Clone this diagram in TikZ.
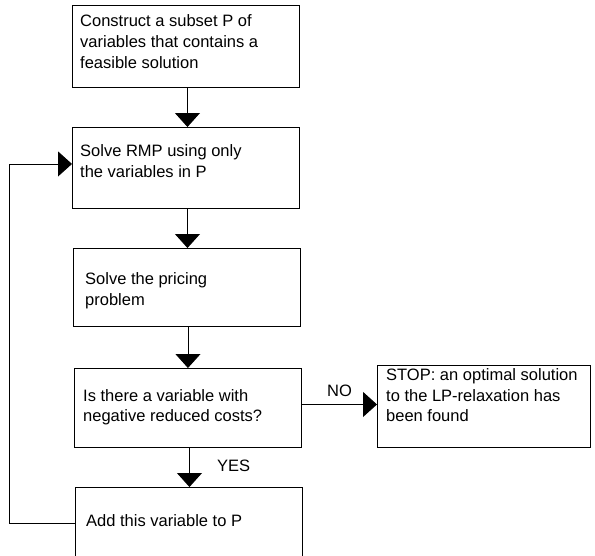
\documentclass[tikz,border=0pt]{standalone}
\usepackage{fontspec}
\setmainfont{Liberation Sans}
\usetikzlibrary{arrows.meta}
\begin{document}
\begin{tikzpicture}[x=1pt,y=-1pt,
  box/.style={draw=black, line width=0.9pt, inner sep=0pt, anchor=north west},
  txt/.style={inner sep=0pt, anchor=base west, align=left, font=\fontsize{16.5}{20.7}\selectfont},
  lbl/.style={inner sep=0pt, anchor=base west, font=\fontsize{16.5}{20}\selectfont},
  flow/.style={line width=0.9pt, -{Triangle[width=25pt,length=14pt]}}]
\useasboundingbox (0,0) rectangle (595,555);
\clip (0,0) rectangle (595,555);
\node[box, minimum width=227pt, minimum height=82pt] (b1) at (72,5) {};
\node[box, minimum width=227pt, minimum height=81pt] (b2) at (72,127) {};
\node[box, minimum width=227pt, minimum height=78pt] (b3) at (73,248) {};
\node[box, minimum width=227pt, minimum height=79pt] (b4) at (74,368) {};
\node[box, minimum width=227pt, minimum height=85pt] (b5) at (75,487) {};
\node[box, minimum width=213pt, minimum height=82pt] (stop) at (377,365) {};
% base anchor = baseline of the last line
\node[txt] (t1) at (80,68) {Construct a subset P of\\variables that contains a\\feasible solution};
\node[txt] (t2) at (80,177.5) {Solve RMP using only\\the variables in P};
\node[txt] (t3) at (85,305) {Solve the pricing\\problem};
\node[txt] (t4) at (83,421.7) {Is there a variable with\\negative reduced costs?};
\node[txt] (t5) at (86,526) {Add this variable to P};
\node[txt] (t6) at (386,421.7) {STOP: an optimal solution\\to the LP-relaxation has\\been found};
\node[lbl] (no) at (327,396) {NO};
\node[lbl] (yes) at (217,471.5) {YES};
\draw[flow] ([xshift=1.5pt]b1.south) -- ([xshift=1.5pt]b1.south |- b2.north);
\draw[flow] ([xshift=1.5pt]b2.south) -- ([xshift=1.5pt]b2.south |- b3.north);
\draw[flow] ([xshift=1pt]b3.south) -- ([xshift=1pt]b3.south |- b4.north);
\draw[flow] ([xshift=1.5pt]b4.south) -- ([xshift=1.5pt]b4.south |- b5.north);
\draw[flow] ([yshift=3.5pt]b4.east) -- ([yshift=3.5pt]b4.east -| stop.west);
\coordinate (lc) at (9,523);
\draw[flow] (b5.west |- lc) -- (lc) |- ([yshift=4pt]b2.west);
\end{tikzpicture}
\end{document}
